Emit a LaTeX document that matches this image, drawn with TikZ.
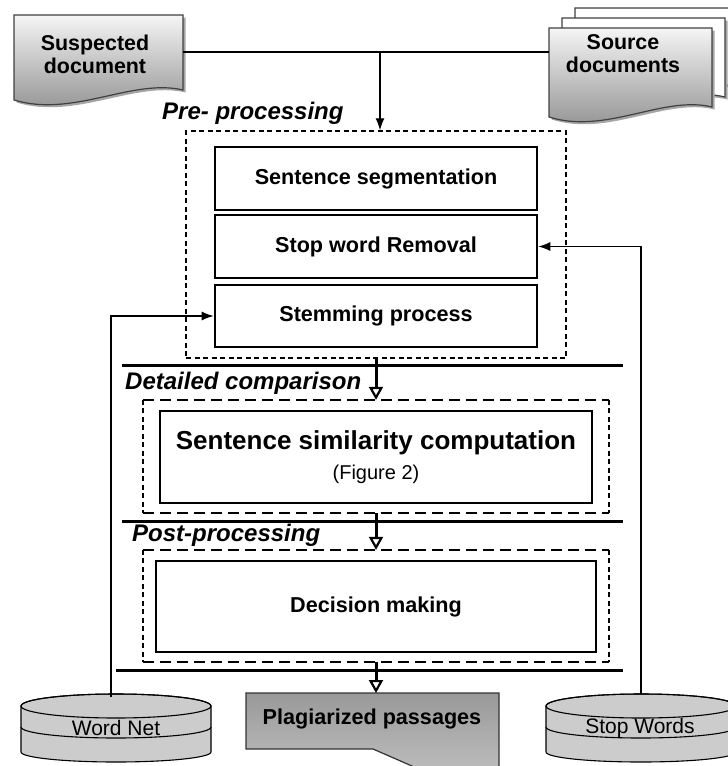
\documentclass[tikz,border=0pt]{standalone}
\usepackage{fontspec}
\setmainfont{Liberation Sans}
\usetikzlibrary{arrows.meta,calc}
% document sheet with a wavy lower edge
\def\docsheet[#1](#2,#3)(#4,#5){\path[#1] (#2,#3) -- (#4,#3) -- (#4,{#5-10}) .. controls ({#4-0.3*(#4-#2)},{#5-22}) and ({#2+0.35*(#4-#2)},{#5+18}) .. (#2,#5) -- cycle;}
% database disk
\def\dbdisk[#1](#2,#3){%
  \path[#1] ({#2-95},#3) -- ({#2-95},{#3+46}) arc[start angle=180,end angle=0,x radius=95,y radius=10] -- ({#2+95},#3) arc[start angle=0,end angle=-180,x radius=95,y radius=12] -- cycle;
  \draw[line width=1.1pt] ({#2-95},{#3+21}) arc[start angle=180,end angle=0,x radius=95,y radius=11];
  \draw[line width=1.1pt] (#2,#3) ellipse [x radius=95,y radius=12];}

\begin{document}
\begin{tikzpicture}[x=1pt,y=-1pt,
    stepbox/.style={draw,line width=2.6pt,minimum width=322pt,minimum height=63pt,inner sep=0pt,
      font=\fontsize{21.6}{25}\selectfont\bfseries},
    phase/.style={anchor=west,inner sep=0pt,font=\fontsize{24}{28}\selectfont\bfseries\itshape},
    doclabel/.style={align=center,inner sep=0pt,font=\fontsize{21.4}{23}\selectfont\bfseries},
    dblabel/.style={inner sep=0pt,font=\fontsize{21}{25}\selectfont},
    longdash/.style={line width=1.5pt,dash pattern=on 11pt off 6pt},
    shortdash/.style={line width=1.5pt,dash pattern=on 5pt off 3.5pt},
    sepline/.style={line width=3pt},
    conn/.style={line width=1.2pt},
    arrowtip/.style={-{Latex[length=12pt,width=9pt]}},
    procarrow/.style={line width=3pt,-{Triangle[open,length=13pt,width=14pt,line width=2.2pt]}},
    docfill/.style={draw=black!75,line width=1.2pt,top color=black!4,bottom color=black!45},
    docshadow/.style={fill=black!35,shift={(2.5,2.5)}},
    dbfill/.style={draw,line width=1.1pt,fill=black!20}]
  \useasboundingbox (0,0) rectangle (728,766);
  \clip (0,0) rectangle (728,766);
  %%%%% START %%%%%
  % input documents
  \docsheet[docshadow](14,15)(183,100)
  \docsheet[docfill](14,15)(183,100)
  \node[doclabel] (susp) at (95,54) {Suspected\\document};

  \docsheet[docshadow](575,8)(738,97)
  \docsheet[draw=black!75,line width=1.2pt,fill=white](575,8)(738,97)
  \docsheet[docshadow](562,18)(725,107)
  \docsheet[draw=black!75,line width=1.2pt,fill=white](562,18)(725,107)
  \docsheet[docshadow](549,28)(712,117)
  \docsheet[docfill](549,28)(712,117)
  \node[doclabel] (src) at (623,54) {Source\\documents};

  \coordinate (suspR) at (183,52);
  \coordinate (srcL) at (549,52);
  \coordinate (join) at (380,52);
  \draw[conn] (suspR) -- (srcL);

  % pre-processing
  \node[phase] (prelbl) at (162,113) {Pre- processing};
  \node[draw,shortdash,minimum width=380pt,minimum height=227pt] (pre) at (376,244.5) {};
  \node[stepbox] (seg) at (376,178.5) {Sentence segmentation};
  \node[stepbox] (stop) at (376,246.5) {Stop word Removal};
  \node[stepbox,minimum height=62pt] (stem) at (376,316) {Stemming process};
  \draw[conn,arrowtip] (join) -- (join |- pre.north);

  \draw[sepline] (122,365) -- (623,365);

  % detailed comparison
  \node[phase] (cmplbl) at (125,383) {Detailed comparison};
  \node[minimum width=466pt,minimum height=113pt] (cmp) at (376,456.5) {};
  \node[stepbox,minimum width=432pt,minimum height=92pt,align=center,
    font=\fontsize{26}{30}\selectfont\bfseries] (simbox) at (376,457)
    {Sentence similarity computation\\{\fontsize{20}{30}\selectfont\mdseries (Figure 2)}};

  \draw[sepline] (122,521) -- (623,521);

  % post-processing
  \node[phase] (postlbl) at (132,535) {Post-processing};
  \node[minimum width=466pt,minimum height=112pt] (post) at (376,606) {};
  \node[stepbox,minimum width=440pt,minimum height=91pt] (dec) at (376,606.5) {Decision making};

  \foreach \b in {cmp,post} {
    \draw[longdash] (\b.north west) -- (\b.north east) (\b.south west) -- (\b.south east);
    \draw[shortdash] (\b.north west) -- (\b.south west) (\b.north east) -- (\b.south east);
  }

  \draw[sepline] (116,670) -- (623,670);

  \draw[procarrow] (pre.south) -- (cmp.north);
  \draw[procarrow] (cmp.south) -- (post.north);

  % output
  \draw[draw=black!80,line width=1.2pt,top color=black!40,bottom color=black!20]
    (246,693) -- (499,693) -- (499,804) -- (373,749) -- (246,749) -- cycle;
  \node[inner sep=0pt,font=\fontsize{21.6}{25}\selectfont\bfseries] (plag) at (372,719) {Plagiarized passages};
  \coordinate (plagtop) at (376,693);
  \draw[procarrow] (post.south) -- (plagtop);

  % resources
  \dbdisk[dbfill](116,706)
  \node[dblabel] (wordnet) at (116,728) {Word Net};
  \dbdisk[dbfill](641,706)
  \node[dblabel] (stopwords) at (640,728) {Stop Words};

  \coordinate (wntop) at (111,697);
  \coordinate (swtop) at (641,694);
  \draw[conn,arrowtip] (wntop) |- (stem.west);
  \draw[conn,arrowtip] (swtop) |- (stop.east);
  %%%%% END %%%%%
\end{tikzpicture}
\end{document}
